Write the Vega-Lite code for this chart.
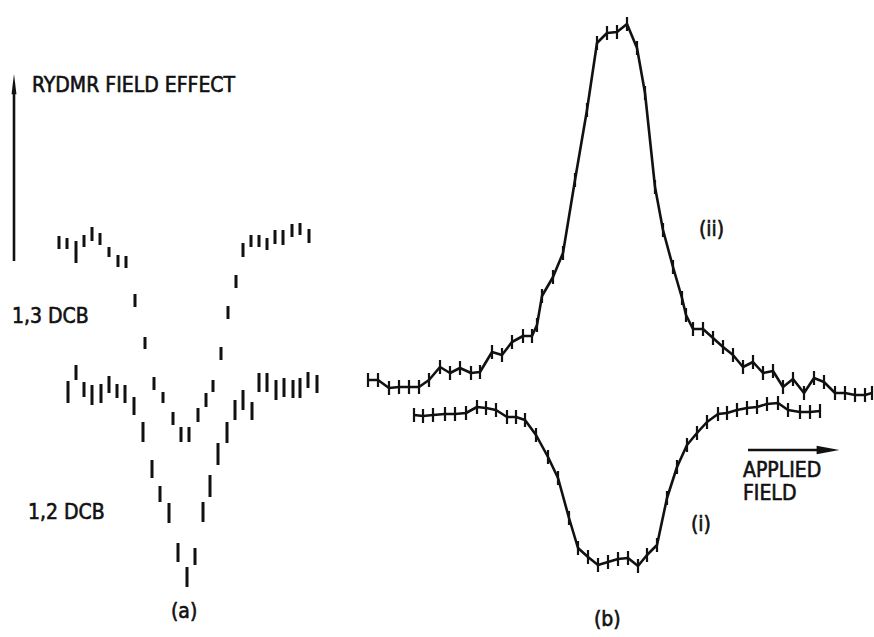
{
  "$schema": "https://vega.github.io/schema/vega-lite/v6.json",
  "width": 874,
  "height": 637,
  "autosize": {"type": "fit", "contains": "padding"},
  "padding": 0,
  "background": "white",
  "config": {"view": {"stroke": null}},
  "datasets": {
    "dcb": [
      {"series": "1,3 DCB", "B": 59, "lo": 388, "hi": 401},
      {"series": "1,3 DCB", "B": 67, "lo": 388, "hi": 399},
      {"series": "1,3 DCB", "B": 76, "lo": 374, "hi": 396},
      {"series": "1,3 DCB", "B": 84, "lo": 390, "hi": 402},
      {"series": "1,3 DCB", "B": 92, "lo": 396, "hi": 410},
      {"series": "1,3 DCB", "B": 100, "lo": 392, "hi": 404},
      {"series": "1,3 DCB", "B": 109, "lo": 380, "hi": 390},
      {"series": "1,3 DCB", "B": 118, "lo": 370, "hi": 382},
      {"series": "1,3 DCB", "B": 126, "lo": 369, "hi": 381},
      {"series": "1,3 DCB", "B": 135, "lo": 330, "hi": 343},
      {"series": "1,3 DCB", "B": 145, "lo": 288, "hi": 300},
      {"series": "1,3 DCB", "B": 154, "lo": 247, "hi": 260},
      {"series": "1,3 DCB", "B": 163, "lo": 234, "hi": 245},
      {"series": "1,3 DCB", "B": 173, "lo": 212, "hi": 225},
      {"series": "1,3 DCB", "B": 181, "lo": 195, "hi": 210},
      {"series": "1,3 DCB", "B": 189, "lo": 195, "hi": 210},
      {"series": "1,3 DCB", "B": 198, "lo": 215, "hi": 229},
      {"series": "1,3 DCB", "B": 206, "lo": 230, "hi": 244},
      {"series": "1,3 DCB", "B": 213, "lo": 245, "hi": 257},
      {"series": "1,3 DCB", "B": 221, "lo": 277, "hi": 290},
      {"series": "1,3 DCB", "B": 228, "lo": 318, "hi": 331},
      {"series": "1,3 DCB", "B": 236, "lo": 349, "hi": 362},
      {"series": "1,3 DCB", "B": 243, "lo": 380, "hi": 394},
      {"series": "1,3 DCB", "B": 251, "lo": 390, "hi": 402},
      {"series": "1,3 DCB", "B": 259, "lo": 390, "hi": 402},
      {"series": "1,3 DCB", "B": 267, "lo": 387, "hi": 399},
      {"series": "1,3 DCB", "B": 275, "lo": 393, "hi": 407},
      {"series": "1,3 DCB", "B": 283, "lo": 392, "hi": 407},
      {"series": "1,3 DCB", "B": 292, "lo": 400, "hi": 413},
      {"series": "1,3 DCB", "B": 300, "lo": 402, "hi": 414},
      {"series": "1,3 DCB", "B": 309, "lo": 394, "hi": 408},
      {"series": "1,2 DCB", "B": 68, "lo": 234, "hi": 256},
      {"series": "1,2 DCB", "B": 76, "lo": 257, "hi": 272},
      {"series": "1,2 DCB", "B": 84, "lo": 240, "hi": 255},
      {"series": "1,2 DCB", "B": 92, "lo": 232, "hi": 252},
      {"series": "1,2 DCB", "B": 101, "lo": 234, "hi": 253},
      {"series": "1,2 DCB", "B": 109, "lo": 244, "hi": 261},
      {"series": "1,2 DCB", "B": 117, "lo": 239, "hi": 253},
      {"series": "1,2 DCB", "B": 125, "lo": 234, "hi": 252},
      {"series": "1,2 DCB", "B": 134, "lo": 222, "hi": 240},
      {"series": "1,2 DCB", "B": 143, "lo": 195, "hi": 215},
      {"series": "1,2 DCB", "B": 152, "lo": 159, "hi": 177},
      {"series": "1,2 DCB", "B": 160, "lo": 135, "hi": 151},
      {"series": "1,2 DCB", "B": 169, "lo": 114, "hi": 134},
      {"series": "1,2 DCB", "B": 178, "lo": 75, "hi": 94},
      {"series": "1,2 DCB", "B": 187, "lo": 50, "hi": 70},
      {"series": "1,2 DCB", "B": 195, "lo": 72, "hi": 89},
      {"series": "1,2 DCB", "B": 203, "lo": 115, "hi": 135},
      {"series": "1,2 DCB", "B": 210, "lo": 140, "hi": 162},
      {"series": "1,2 DCB", "B": 218, "lo": 172, "hi": 194},
      {"series": "1,2 DCB", "B": 227, "lo": 194, "hi": 215},
      {"series": "1,2 DCB", "B": 235, "lo": 217, "hi": 237},
      {"series": "1,2 DCB", "B": 243, "lo": 227, "hi": 247},
      {"series": "1,2 DCB", "B": 252, "lo": 217, "hi": 235},
      {"series": "1,2 DCB", "B": 259, "lo": 245, "hi": 264},
      {"series": "1,2 DCB", "B": 267, "lo": 245, "hi": 264},
      {"series": "1,2 DCB", "B": 276, "lo": 237, "hi": 257},
      {"series": "1,2 DCB", "B": 284, "lo": 240, "hi": 259},
      {"series": "1,2 DCB", "B": 293, "lo": 239, "hi": 257},
      {"series": "1,2 DCB", "B": 300, "lo": 239, "hi": 259},
      {"series": "1,2 DCB", "B": 308, "lo": 249, "hi": 265},
      {"series": "1,2 DCB", "B": 317, "lo": 244, "hi": 262}
    ],
    "scan": [
      {"trace": "ii", "B": 368, "S": 257},
      {"trace": "ii", "B": 378, "S": 257},
      {"trace": "ii", "B": 389, "S": 249},
      {"trace": "ii", "B": 399, "S": 250},
      {"trace": "ii", "B": 409, "S": 250},
      {"trace": "ii", "B": 419, "S": 250},
      {"trace": "ii", "B": 429, "S": 257},
      {"trace": "ii", "B": 440, "S": 270},
      {"trace": "ii", "B": 450, "S": 264},
      {"trace": "ii", "B": 460, "S": 269},
      {"trace": "ii", "B": 471, "S": 264},
      {"trace": "ii", "B": 480, "S": 265},
      {"trace": "ii", "B": 492, "S": 285},
      {"trace": "ii", "B": 502, "S": 282},
      {"trace": "ii", "B": 512, "S": 295},
      {"trace": "ii", "B": 523, "S": 301},
      {"trace": "ii", "B": 532, "S": 301},
      {"trace": "ii", "B": 537, "S": 312},
      {"trace": "ii", "B": 542, "S": 341},
      {"trace": "ii", "B": 553, "S": 360},
      {"trace": "ii", "B": 563, "S": 384},
      {"trace": "ii", "B": 575, "S": 457},
      {"trace": "ii", "B": 587, "S": 527},
      {"trace": "ii", "B": 597, "S": 594},
      {"trace": "ii", "B": 607, "S": 604},
      {"trace": "ii", "B": 617, "S": 605},
      {"trace": "ii", "B": 627, "S": 613},
      {"trace": "ii", "B": 637, "S": 589},
      {"trace": "ii", "B": 645, "S": 544},
      {"trace": "ii", "B": 655, "S": 450},
      {"trace": "ii", "B": 663, "S": 407},
      {"trace": "ii", "B": 673, "S": 370},
      {"trace": "ii", "B": 682, "S": 339},
      {"trace": "ii", "B": 686, "S": 322},
      {"trace": "ii", "B": 693, "S": 308},
      {"trace": "ii", "B": 703, "S": 308},
      {"trace": "ii", "B": 713, "S": 299},
      {"trace": "ii", "B": 723, "S": 290},
      {"trace": "ii", "B": 733, "S": 282},
      {"trace": "ii", "B": 743, "S": 270},
      {"trace": "ii", "B": 753, "S": 275},
      {"trace": "ii", "B": 763, "S": 264},
      {"trace": "ii", "B": 773, "S": 266},
      {"trace": "ii", "B": 783, "S": 250},
      {"trace": "ii", "B": 793, "S": 258},
      {"trace": "ii", "B": 804, "S": 244},
      {"trace": "ii", "B": 814, "S": 259},
      {"trace": "ii", "B": 824, "S": 255},
      {"trace": "ii", "B": 835, "S": 244},
      {"trace": "ii", "B": 845, "S": 244},
      {"trace": "ii", "B": 855, "S": 242},
      {"trace": "ii", "B": 865, "S": 242},
      {"trace": "ii", "B": 872, "S": 244},
      {"trace": "i", "B": 414, "S": 222},
      {"trace": "i", "B": 423, "S": 221},
      {"trace": "i", "B": 433, "S": 222},
      {"trace": "i", "B": 445, "S": 223},
      {"trace": "i", "B": 455, "S": 223},
      {"trace": "i", "B": 466, "S": 224},
      {"trace": "i", "B": 477, "S": 230},
      {"trace": "i", "B": 486, "S": 229},
      {"trace": "i", "B": 496, "S": 227},
      {"trace": "i", "B": 507, "S": 220},
      {"trace": "i", "B": 516, "S": 220},
      {"trace": "i", "B": 525, "S": 217},
      {"trace": "i", "B": 536, "S": 202},
      {"trace": "i", "B": 548, "S": 180},
      {"trace": "i", "B": 558, "S": 159},
      {"trace": "i", "B": 569, "S": 119},
      {"trace": "i", "B": 578, "S": 89},
      {"trace": "i", "B": 588, "S": 80},
      {"trace": "i", "B": 598, "S": 72},
      {"trace": "i", "B": 608, "S": 75},
      {"trace": "i", "B": 618, "S": 78},
      {"trace": "i", "B": 628, "S": 79},
      {"trace": "i", "B": 638, "S": 71},
      {"trace": "i", "B": 647, "S": 82},
      {"trace": "i", "B": 657, "S": 92},
      {"trace": "i", "B": 667, "S": 139},
      {"trace": "i", "B": 677, "S": 170},
      {"trace": "i", "B": 687, "S": 192},
      {"trace": "i", "B": 697, "S": 204},
      {"trace": "i", "B": 707, "S": 215},
      {"trace": "i", "B": 718, "S": 223},
      {"trace": "i", "B": 727, "S": 224},
      {"trace": "i", "B": 737, "S": 227},
      {"trace": "i", "B": 747, "S": 229},
      {"trace": "i", "B": 757, "S": 230},
      {"trace": "i", "B": 767, "S": 233},
      {"trace": "i", "B": 778, "S": 234},
      {"trace": "i", "B": 788, "S": 227},
      {"trace": "i", "B": 800, "S": 225},
      {"trace": "i", "B": 810, "S": 225},
      {"trace": "i", "B": 820, "S": 226}
    ],
    "arrows": [
      {"name": "effect", "B": 14, "B2": 14, "S": 376, "S2": 545, "headB": 14, "headS": 553},
      {"name": "field", "B": 748, "B2": 822, "S": 187, "S2": 187, "headB": 828, "headS": 187}
    ],
    "labels": [
      {"text": "RYDMR FIELD EFFECT", "B": 32, "S": 551},
      {"text": "1,3 DCB", "B": 12, "S": 320},
      {"text": "1,2 DCB", "B": 28, "S": 124},
      {"text": "(a)", "B": 171, "S": 25},
      {"text": "(b)", "B": 594, "S": 17},
      {"text": "(ii)", "B": 699, "S": 407},
      {"text": "(i)", "B": 691, "S": 112},
      {"text": "APPLIED", "B": 743, "S": 166},
      {"text": "FIELD", "B": 743, "S": 143}
    ]
  },
  "encoding": {
    "x": {"field": "B", "type": "quantitative", "axis": null,
          "scale": {"domain": [0, 874], "nice": false, "zero": false}},
    "y": {"field": "S", "type": "quantitative", "axis": null,
          "scale": {"domain": [0, 637], "nice": false, "zero": false}}
  },
  "layer": [
    {
      "data": {"name": "dcb"},
      "mark": {"type": "rule", "color": "#111", "strokeWidth": 3},
      "encoding": {
        "y": {"field": "lo", "type": "quantitative"},
        "y2": {"field": "hi"}
      }
    },
    {
      "data": {"name": "scan"},
      "mark": {"type": "line", "color": "#111", "strokeWidth": 2.6, "strokeJoin": "round"},
      "encoding": {
        "detail": {"field": "trace"},
        "order": {"field": "B", "type": "quantitative"}
      }
    },
    {
      "data": {"name": "scan"},
      "mark": {"type": "tick", "orient": "vertical", "color": "#111", "opacity": 1, "size": 14, "thickness": 2.2}
    },
    {
      "data": {"name": "arrows"},
      "mark": {"type": "rule", "color": "#111", "strokeWidth": 2.6},
      "encoding": {
        "x2": {"field": "B2"},
        "y2": {"field": "S2"}
      }
    },
    {
      "data": {"name": "arrows"},
      "transform": [{"filter": "datum.name === 'effect'"}],
      "mark": {"type": "point", "shape": "M0,-1L0.24,1L-0.24,1Z", "size": 420, "filled": true, "color": "#111", "opacity": 1},
      "encoding": {
        "x": {"field": "headB", "type": "quantitative"},
        "y": {"field": "headS", "type": "quantitative"}
      }
    },
    {
      "data": {"name": "arrows"},
      "transform": [{"filter": "datum.name === 'field'"}],
      "mark": {"type": "point", "shape": "M1,0L-1,-0.38L-1,0.38Z", "size": 520, "filled": true, "color": "#111", "opacity": 1},
      "encoding": {
        "x": {"field": "headB", "type": "quantitative"},
        "y": {"field": "headS", "type": "quantitative"}
      }
    },
    {
      "data": {"name": "labels"},
      "mark": {"type": "text", "align": "left", "baseline": "middle", "font": "DejaVu Sans Condensed", "fontSize": 21, "color": "#111", "stroke": "#111", "strokeWidth": 0.6},
      "encoding": {"text": {"field": "text"}}
    }
  ]
}
